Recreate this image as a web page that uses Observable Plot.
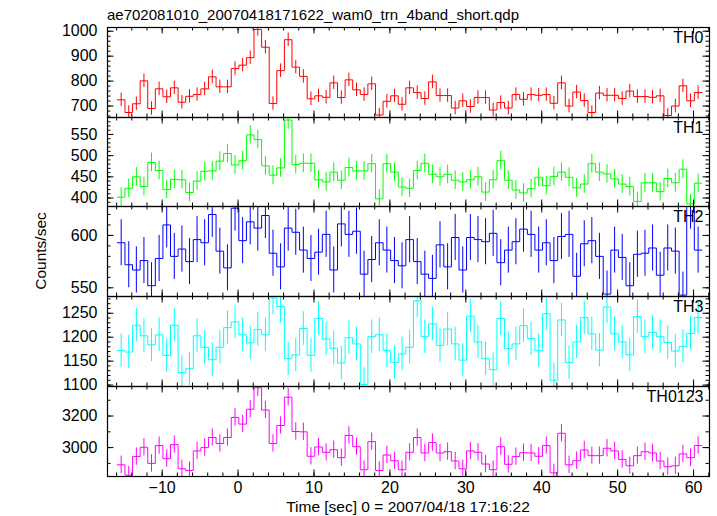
<!DOCTYPE html>
<html><head><meta charset="utf-8">
<script src="https://cdn.jsdelivr.net/npm/d3@7"></script>
<script src="https://cdn.jsdelivr.net/npm/@observablehq/plot@0.6"></script>
<style>
body{margin:0;background:#fff;}
#chart{position:relative;width:717px;height:516px;overflow:hidden;background:#fff;}
#chart svg{position:absolute;left:0;}
</style></head><body><div id="chart"></div>
<script>
// ---- data (1-s bins, counts/sec) ----
const timeStart = -15.4;   // centre of first bin [s]
const binWidth = 1;
const nBins = 77;

const th0 = [725,674,709,801,690,769,737,773,715,739,
  746,769,817,777,777,850,864,894,1007,936,
  710,842,966,856,819,729,741,735,793,734,
  805,765,746,789,664,719,741,707,773,754,
  730,797,742,742,692,721,698,734,734,684,
  714,692,746,727,746,743,746,711,793,700,
  756,722,674,752,743,743,730,760,738,738,
  735,741,662,700,781,721,754];
const th1 = [402,423,450,427,484,465,420,444,443,413,
  440,463,464,487,505,478,488,549,538,476,
  454,471,584,479,482,482,443,438,461,442,
  472,464,464,481,398,481,461,426,423,465,
  482,456,450,456,442,438,443,450,414,443,
  488,442,419,412,422,449,429,451,461,449,
  424,433,481,461,457,445,433,427,392,436,
  436,415,446,436,468,386,435];
const th2 = [593,572,567,576,552,578,610,580,587,575,
  596,593,620,585,569,626,595,613,607,619,
  583,570,607,603,586,578,584,601,567,611,
  601,604,563,577,593,586,576,571,596,575,
  563,559,591,570,598,567,598,596,594,602,
  574,586,594,606,601,586,593,576,599,601,
  561,592,595,580,544,586,579,552,582,583,
  588,562,588,585,543,628,586];
const th3 = [1172,1169,1225,1203,1184,1205,1162,1225,1126,1134,
  1203,1179,1153,1179,1220,1232,1205,1188,1216,1205,
  1282,1264,1155,1163,1218,1162,1239,1196,1177,1146,
  1199,1186,1101,1201,1205,1172,1147,1165,1179,1276,
  1201,1228,1183,1217,1186,1152,1244,1190,1155,1132,
  1239,1176,1186,1224,1197,1172,1249,1110,1236,1147,
  1190,1241,1207,1173,1263,1207,1190,1163,1243,1201,
  1210,1201,1189,1171,1181,1208,1241];
const th0123 = [2891,2825,2943,3002,2900,3013,2930,3019,2866,2855,
  2979,3000,3064,3026,3064,3191,3149,3243,3379,3238,
  3026,3140,3319,3102,3100,2945,3004,2970,2987,2936,
  3077,3006,2860,3038,2855,2953,2917,2860,2970,3064,
  2966,3032,2966,2974,2915,2866,2979,2970,2896,2860,
  3006,2894,2943,2968,2966,2945,3013,2840,3091,2891,
  2917,2985,2949,2949,2996,2979,2925,2885,2949,2974,
  2966,2915,2879,2885,2960,2936,3013];

// error half-lengths
const errTH0 = 27, errTH1 = 22, errTH2 = 22, errTH3 = 35, errTH0123 = 55;

const panelNames = ["TH0","TH1","TH2","TH3","TH0123"];
const panelColors = ["#ff0000","#00ff00","#0000ff","#00ffff","#ff00ff"];

// tick labels
const xTickLabels = [-10,0,10,20,30,40,50,60];
const xMinorStep = 2;
const yTicksTH0 = [700,800,900,1000];
const yTicksTH1 = [400,450,500,550];
const yTicksTH2 = [550,600];
const yTicksTH3 = [1100,1150,1200,1250];
const yTicksTH0123 = [3000,3200];

const titleText = "ae702081010_20070418171622_wam0_trn_4band_short.qdp";
const xLabel = "Time [sec] 0 = 2007/04/18 17:16:22";
const yLabel = "Counts/sec";

// ---- layout ----
const W = 717, ML = 107, MR = 8;
const frameEdges = [27, 117, 206, 296, 386, 476];
const xDomain = [-17.2, 62.1];
const panels = [
  {name: panelNames[0], values: th0, err: errTH0, color: panelColors[0], domain: [654, 1015], major: yTicksTH0, minorStep: 20},
  {name: panelNames[1], values: th1, err: errTH1, color: panelColors[1], domain: [380, 590], major: yTicksTH1, minorStep: 10},
  {name: panelNames[2], values: th2, err: errTH2, color: panelColors[2], domain: [541.7, 627.6], major: yTicksTH2, minorStep: 10},
  {name: panelNames[3], values: th3, err: errTH3, color: panelColors[3], domain: [1097, 1285], major: yTicksTH3, minorStep: 10},
  {name: panelNames[4], values: th0123, err: errTH0123, color: panelColors[4], domain: [2817, 3387], major: yTicksTH0123, minorStep: 100}
];

const bins = d3.range(nBins).map(i => timeStart + i * binWidth);
const xMinor = d3.range(Math.ceil(xDomain[0] / xMinorStep) * xMinorStep, xDomain[1], xMinorStep);
const chart = document.getElementById("chart");
const FONT = "'Liberation Sans', Arial, Helvetica, sans-serif";
const fmt = d3.format("d");

panels.forEach((cfg, i) => {
  const top = frameEdges[i], h = frameEdges[i + 1] - frameEdges[i];
  const last = i === panels.length - 1;
  const mt = 14, mb = last ? 40 : 14;
  const innerW = W - ML - MR;
  const [y0, y1] = cfg.domain;
  const rows = cfg.values.map((v, k) => ({t: bins[k], v}));
  const step = [];
  rows.forEach(d => { step.push({t: d.t - binWidth / 2, v: d.v}, {t: d.t + binWidth / 2, v: d.v}); });
  const yMinor = d3.range(Math.ceil(y0 / cfg.minorStep) * cfg.minorStep, y1, cfg.minorStep);
  const yMajor = cfg.major.filter(d => d >= y0 && d <= y1);
  const LMaj = 6.5, LMin = 3.5;
  const marks = [
    Plot.ruleX(rows, {x: "t", y1: d => d.v - cfg.err, y2: d => d.v + cfg.err, stroke: cfg.color, strokeWidth: 1, clip: true}),
    Plot.line(step, {x: "t", y: "v", stroke: cfg.color, strokeWidth: 1, clip: true}),
    // inward ticks, all four sides
    Plot.ruleX(xMinor, {x: d => d, insetTop: h - LMin, stroke: "black"}),
    Plot.ruleX(xMinor, {x: d => d, insetBottom: h - LMin, stroke: "black"}),
    Plot.ruleX(xTickLabels, {x: d => d, insetTop: h - LMaj, stroke: "black"}),
    Plot.ruleX(xTickLabels, {x: d => d, insetBottom: h - LMaj, stroke: "black"}),
    Plot.ruleY(yMinor, {y: d => d, insetRight: innerW - LMin, stroke: "black"}),
    Plot.ruleY(yMinor, {y: d => d, insetLeft: innerW - LMin, stroke: "black"}),
    Plot.ruleY(yMajor, {y: d => d, insetRight: innerW - LMaj, stroke: "black"}),
    Plot.ruleY(yMajor, {y: d => d, insetLeft: innerW - LMaj, stroke: "black"}),
    Plot.frame({stroke: "black", strokeWidth: 1.2}),
    Plot.axisY(yMajor, {tickSize: 0, tickPadding: 10, fontSize: 16, label: null, tickFormat: fmt}),
    Plot.text([cfg.name], {frameAnchor: "top-right", dx: -6, dy: 4, lineAnchor: "top", fontSize: 16, fill: "black"})
  ];
  if (last) marks.push(Plot.axisX(xTickLabels, {tickSize: 0, tickPadding: 5, fontSize: 16, label: null, tickFormat: fmt}));
  const svg = Plot.plot({
    width: W, height: h + mt + mb,
    marginTop: mt, marginBottom: mb, marginLeft: ML, marginRight: MR,
    x: last ? {domain: xDomain} : {domain: xDomain, axis: null},
    y: {domain: cfg.domain},
    style: {background: "transparent", overflow: "visible", fontFamily: FONT, fontSize: "16px", color: "black"},
    marks
  });
  svg.style.top = (top - mt) + "px";
  chart.appendChild(svg);
});

// titles
const ns = "http://www.w3.org/2000/svg";
const over = document.createElementNS(ns, "svg");
over.setAttribute("width", W); over.setAttribute("height", 516);
over.style.top = "0px"; over.style.overflow = "visible"; over.style.pointerEvents = "none";
function addText(txt, x, y, opts = {}) {
  const t = document.createElementNS(ns, "text");
  t.textContent = txt;
  t.setAttribute("x", x); t.setAttribute("y", y);
  t.setAttribute("font-family", FONT);
  t.setAttribute("font-size", opts.size || 15);
  t.setAttribute("text-anchor", opts.anchor || "start");
  if (opts.rotate) t.setAttribute("transform", `rotate(${opts.rotate} ${x} ${y})`);
  over.appendChild(t);
}
addText(titleText, ML, 19.5, {size: 15});
addText(xLabel, (ML + W - MR) / 2, 511.5, {size: 15.5, anchor: "middle"});
addText(yLabel, 46, 251, {size: 15.5, anchor: "middle", rotate: -90});
chart.appendChild(over);
</script></body></html>
